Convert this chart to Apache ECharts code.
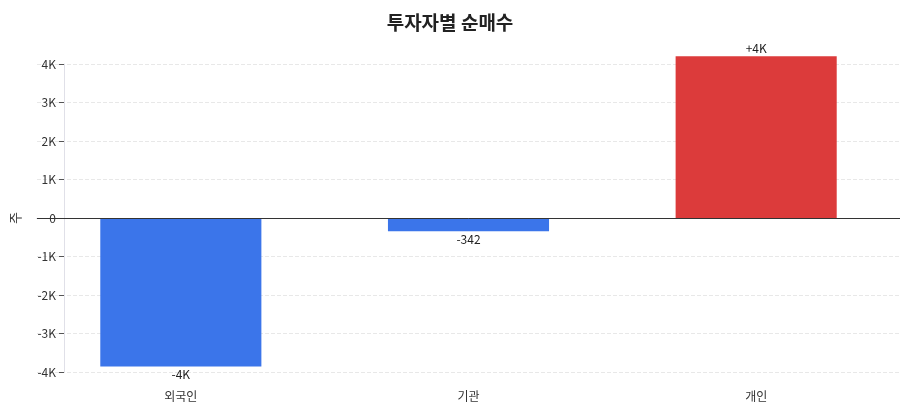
<!DOCTYPE html>
<html>
<head>
<meta charset="utf-8">
<script src="https://cdn.jsdelivr.net/npm/echarts@6/dist/echarts.min.js"></script>
<style>html,body{margin:0;padding:0;background:#fff;}#chart{width:900px;height:420px;}</style>
</head>
<body>
<div id="chart"></div>
<script>
var categories = ['외국인', '기관', '개인'];
var values = [-3860, -342, 4202];
var colors = ['#3b75ea', '#3b75ea', '#dc3b3b'];

function fmt(v) {
	var sign = v > 0 ? '+' : (v < 0 ? '-' : '');
	var a = Math.abs(v);
	if (a >= 1000) return sign + Math.round(a / 1000) + 'K';
	return sign + a;
}

var myChart = echarts.init(document.getElementById('chart'));
var option = {
	textStyle: { fontFamily: 'Noto Sans CJK KR' },
	title: {
		text: '투자자별 순매수', left: 'center', top: 8,
		textStyle: { fontSize: 19, fontWeight: 'bold', color: '#222', fontFamily: 'Noto Sans CJK KR' }
	},
	grid: { left: 37, width: 875, top: 64, bottom: 48 },
	xAxis: {
		type: 'category', data: categories, offset: 10,
		axisLine: { lineStyle: { color: '#c8c8d8' } },
		axisTick: { show: false },
		axisLabel: { color: '#333', fontSize: 12 }
	},
	yAxis: {
		type: 'value', min: -4000, max: 4000, interval: 1000, offset: -27,
		name: '주', nameLocation: 'middle', nameGap: 42, nameRotate: 90,
		nameTextStyle: { color: '#333', fontSize: 13 },
		axisLine: { show: true, lineStyle: { color: '#e0e0e8' } },
		axisTick: { show: true, lineStyle: { color: '#555' } },
		axisLabel: { color: '#333', fontSize: 12, formatter: function (v) { return v === 0 ? '0' : (v / 1000) + 'K'; } },
		splitLine: { lineStyle: { type: 'dashed', color: '#e8e8e8' } }
	},
	series: [{
		type: 'bar', barWidth: '56%', clip: false,
		data: values.map(function (v, i) {
			return {
				value: v, itemStyle: { color: colors[i] },
				label: { show: true, position: v < 0 ? 'bottom' : 'top', formatter: fmt(v), color: '#222', fontSize: 12, distance: 2 }
			};
		}),
		markLine: {
			silent: true, symbol: 'none', label: { show: false },
			lineStyle: { color: '#333', type: 'solid', width: 1 },
			data: [{ yAxis: 0 }]
		}
	}]
};
myChart.setOption(option);
</script>
</body>
</html>
